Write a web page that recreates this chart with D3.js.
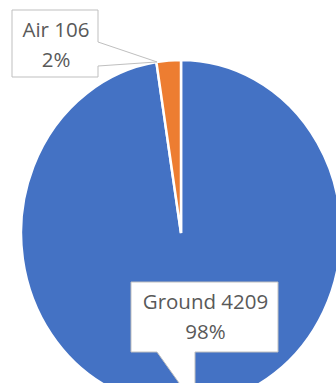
<!DOCTYPE html>
<html>
<head>
<meta charset="utf-8">
<script src="https://cdn.jsdelivr.net/npm/d3@7"></script>
<style>
  html, body { margin: 0; padding: 0; background: #ffffff; }
  svg { display: block; }
</style>
</head>
<body>
<svg id="chart" width="336" height="383"></svg>
<script>
// ---- data ----
const categories = ["Ground", "Air"];
const values = [4209, 106];
const colors = ["#4472C4", "#ED7D31"];

// ---- layout ----
const W = 336, H = 383;
const cx = 181, cy = 233, rx = 160, ry = 173;

const svg = d3.select("#chart");
const total = d3.sum(values);
const data = categories.map((c, i) => ({ name: c, value: values[i], color: colors[i] }));

const pie = d3.pie().sort(null).value(d => d.value).startAngle(0).endAngle(2 * Math.PI);
const arcs = pie(data);
const arc = d3.arc().innerRadius(0).outerRadius(rx);

const g = svg.append("g")
  .attr("transform", `translate(${cx},${cy}) scale(1,${ry / rx})`);

g.selectAll("path.slice")
  .data(arcs)
  .join("path")
  .attr("class", "slice")
  .attr("d", arc)
  .attr("fill", d => d.data.color)
  .attr("stroke", "#ffffff")
  .attr("stroke-width", 2.5)
  .attr("vector-effect", "non-scaling-stroke");

// point on ellipse at angle a (0 = top, clockwise), fraction f of radius
function pt(a, f) {
  return [cx + rx * f * Math.sin(a), cy - ry * f * Math.cos(a)];
}

const pct = d => Math.round(d.value / total * 100) + "%";

// ---- callout labels ----
const labelCfg = {
  Air:    { box: [12, 10, 98, 77], side: "right", gap: [42, 66], tipAngle: a => a.startAngle + 0.004, tipF: 1.0 },
  Ground: { box: [131, 282, 278, 352], side: "bottom", gap: [157, 195], tipAngle: a => Math.PI - 0.088, tipF: 1.0 }
};

arcs.forEach(a => {
  const cfg = labelCfg[a.data.name];
  const [x0, y0, x1, y1] = cfg.box;
  const tip = pt(cfg.tipAngle(a), cfg.tipF);
  let p;
  if (cfg.side === "right") {
    p = `M${x0},${y0}H${x1}V${cfg.gap[0]}L${tip[0]},${tip[1]}L${x1},${cfg.gap[1]}V${y1}H${x0}Z`;
  } else {
    p = `M${x0},${y0}H${x1}V${y1}H${cfg.gap[1]}L${cfg.gap[1]},${tip[1]}L${cfg.gap[0]},${y1}H${x0}Z`;
  }
  svg.append("path")
    .attr("d", p)
    .attr("fill", "#ffffff")
    .attr("stroke", "#BFBFBF")
    .attr("stroke-width", 1);

  const tx = (x0 + x1) / 2 + 1;
  const t = svg.append("text")
    .attr("font-family", "'Open Sans', sans-serif")
    .attr("font-size", 20.5)
    .attr("fill", "#595959")
    .attr("text-anchor", "middle");
  t.append("tspan").attr("x", tx).attr("y", y0 + 27).text(`${a.data.name} ${a.data.value}`);
  t.append("tspan").attr("x", tx).attr("y", y0 + 57).text(pct(a.data));
});
</script>
</body>
</html>
